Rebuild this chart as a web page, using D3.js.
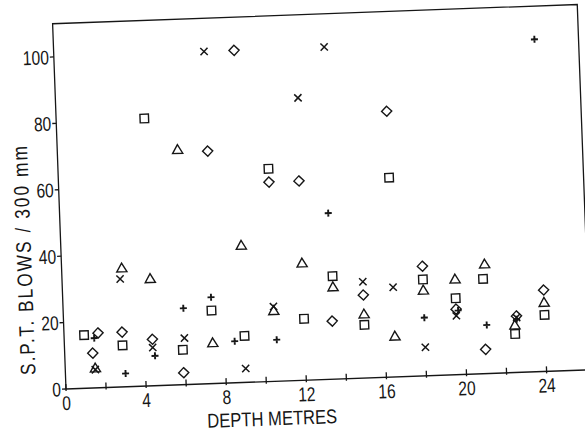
<!DOCTYPE html>
<html>
<head>
<meta charset="utf-8">
<script src="https://cdn.jsdelivr.net/npm/d3@7"></script>
<style>
  body { margin: 0; background: #fff; }
  svg text { font-family: "Liberation Sans", Arimo, "DejaVu Sans", sans-serif; fill: #161616; }
</style>
</head>
<body>
<svg id="chart" width="585" height="432"></svg>
<script>

// depth (m) and SPT blows / 300 mm, one pair of arrays per symbol
var squareDepth = [ 1.0, 2.9, 4.4, 5.9, 7.4, 9.0, 10.5, 12.0, 13.5, 15.0, 16.5, 18.0, 19.6, 21.0, 22.5, 24.0 ];
var squareBlows = [ 16, 12.5, 80.5, 10.5, 22, 14, 64, 18.5, 31, 16, 60, 29, 23, 28.5, 11.6, 17 ];

var diamondDepth = [ 1.4, 1.7, 2.9, 4.4, 5.9, 7.5, 9.0, 10.5, 12.0, 13.4, 15.0, 16.5, 18.0, 19.6, 21.0, 22.6, 24.0 ];
var diamondBlows = [ 10.5, 16.5, 16.5, 14, 3.6, 70, 100, 60, 60, 17.5, 25, 80, 33, 19.7, 7.3, 17, 24.5 ];

var triangleDepth = [ 1.5, 3.0, 4.4, 6.0, 7.4, 9.0, 10.5, 12.0, 13.5, 15.0, 16.5, 18.0, 19.6, 21.1, 22.5, 24.0 ];
var triangleBlows = [ 5.7, 35.5, 32, 70.5, 12, 41, 21, 35, 27.5, 19, 12, 25.5, 28.5, 32.7, 14, 20.5 ];

var timesDepth = [ 1.5, 2.9, 4.4, 6.0, 7.5, 9.0, 10.5, 12.1, 13.5, 15.0, 16.5, 18.0, 19.6, 22.6 ];
var timesBlows = [ 5.5, 32.5, 11.5, 14, 100, 4.2, 22.5, 85, 100, 29, 27, 8.6, 17.7, 16.5 ];

var plusDepth = [ 1.5, 3.0, 4.5, 6.0, 7.4, 8.5, 10.6, 13.4, 18.0, 19.7, 21.1, 22.6, 24.0 ];
var plusBlows = [ 15, 4, 9, 23, 26, 12.5, 12.5, 50, 17.5, 19.3, 14.6, 16, 100 ];

var xTicks = [ 0, 4, 8, 12, 16, 20, 24 ];
var xMinorTicks = [ 2, 6, 10, 14, 18, 22 ];
var yTicks = [ 0, 20, 40, 60, 80, 100 ];

var ink = "#161616";
var narrow = " scale(0.78,1)";   // the lettering is a condensed stencil face

var series = [
  { depth: squareDepth, blows: squareBlows, type: d3.symbolSquare2, size: 92, width: 1.4 },
  { depth: diamondDepth, blows: diamondBlows, type: d3.symbolDiamond2, size: 66, width: 1.4 },
  { depth: triangleDepth, blows: triangleBlows, type: d3.symbolTriangle2, size: 74, width: 1.4 },
  { depth: timesDepth, blows: timesBlows, type: d3.symbolTimes, size: 36, width: 1.5 },
  { depth: plusDepth, blows: plusBlows, type: d3.symbolPlus, size: 18, width: 1.9 }
];

var x = d3.scaleLinear()
  .domain( [ 0, 26.2 ] )
  .range( [ 0, 525 ] );

var y = d3.scaleLinear()
  .domain( [ 0, 110 ] )
  .range( [ 0, -365.5 ] );

var svg = d3.select( "#chart" );

// the scanned figure sits slightly rotated on the page
var plot = svg.append( "g" )
  .attr( "transform", "translate(66,389) rotate(-2.1)" );

// frame
plot.append( "path" )
  .attr( "d", "M" + x( 0 ) + "," + y( 0 ) + "V" + y( 110 ) + "H" + x( 26.2 ) + "V" + y( 0 ) )
  .attr( "fill", "none" )
  .attr( "stroke", ink )
  .attr( "stroke-width", 1.3 );

// x axis line runs on past the frame
plot.append( "line" )
  .attr( "x1", x( 0 ) )
  .attr( "x2", x( 27.5 ) )
  .attr( "y1", 0 )
  .attr( "y2", 0 )
  .attr( "stroke", ink )
  .attr( "stroke-width", 1.4 );

plot.selectAll( "line.xTick" )
  .data( xTicks.concat( xMinorTicks ) )
  .enter().append( "line" )
    .attr( "class", "xTick" )
    .attr( "x1", d => x( d ) )
    .attr( "x2", d => x( d ) )
    .attr( "y1", -5 )
    .attr( "y2", 2 )
    .attr( "stroke", ink )
    .attr( "stroke-width", 1.3 );

plot.selectAll( "text.xTickLabel" )
  .data( xTicks )
  .enter().append( "text" )
    .attr( "class", "xTickLabel" )
    .attr( "transform", d => "translate(" + x( d ) + ",21)" + narrow )
    .attr( "text-anchor", "middle" )
    .style( "font-size", "20px" )
    .text( d => d );

plot.selectAll( "line.yTick" )
  .data( yTicks )
  .enter().append( "line" )
    .attr( "class", "yTick" )
    .attr( "x1", -4 )
    .attr( "x2", 0 )
    .attr( "y1", d => y( d ) )
    .attr( "y2", d => y( d ) )
    .attr( "stroke", ink )
    .attr( "stroke-width", 1.3 );

plot.selectAll( "text.yTickLabel" )
  .data( yTicks )
  .enter().append( "text" )
    .attr( "class", "yTickLabel" )
    .attr( "transform", d => "translate(-5," + y( d ) + ")" + narrow )
    .attr( "dy", "0.36em" )
    .attr( "text-anchor", "end" )
    .style( "font-size", "20px" )
    .text( d => d );

// axis titles, stretched to the length they have in the figure
plot.append( "text" )
  .attr( "transform", "translate(140,44) scale(0.83,1)" )
  .attr( "text-anchor", "start" )
  .attr( "textLength", 130 / 0.83 )
  .attr( "lengthAdjust", "spacing" )
  .style( "font-size", "20px" )
  .text( "DEPTH METRES" );

plot.append( "text" )
  .attr( "transform", "translate(-30," + y( 4.6 ) + ") rotate(-90) scale(0.82,1)" )
  .attr( "text-anchor", "start" )
  .attr( "textLength", 229 / 0.82 )
  .attr( "lengthAdjust", "spacing" )
  .style( "font-size", "21px" )
  .text( "S.P.T.  BLOWS / 300 mm" );

// points
series.forEach( s => {

  var symbol = d3.symbol()
    .type( s.type )
    .size( s.size );

  plot.append( "g" )
    .selectAll( "path" )
    .data( d3.range( s.depth.length ) )
    .enter().append( "path" )
      .attr( "transform", i => "translate(" + x( s.depth[ i ] ) + "," + y( s.blows[ i ] ) + ")" )
      .attr( "d", symbol )
      .attr( "fill", "none" )
      .attr( "stroke", ink )
      .attr( "stroke-width", s.width );

} );

</script>
</body>
</html>
